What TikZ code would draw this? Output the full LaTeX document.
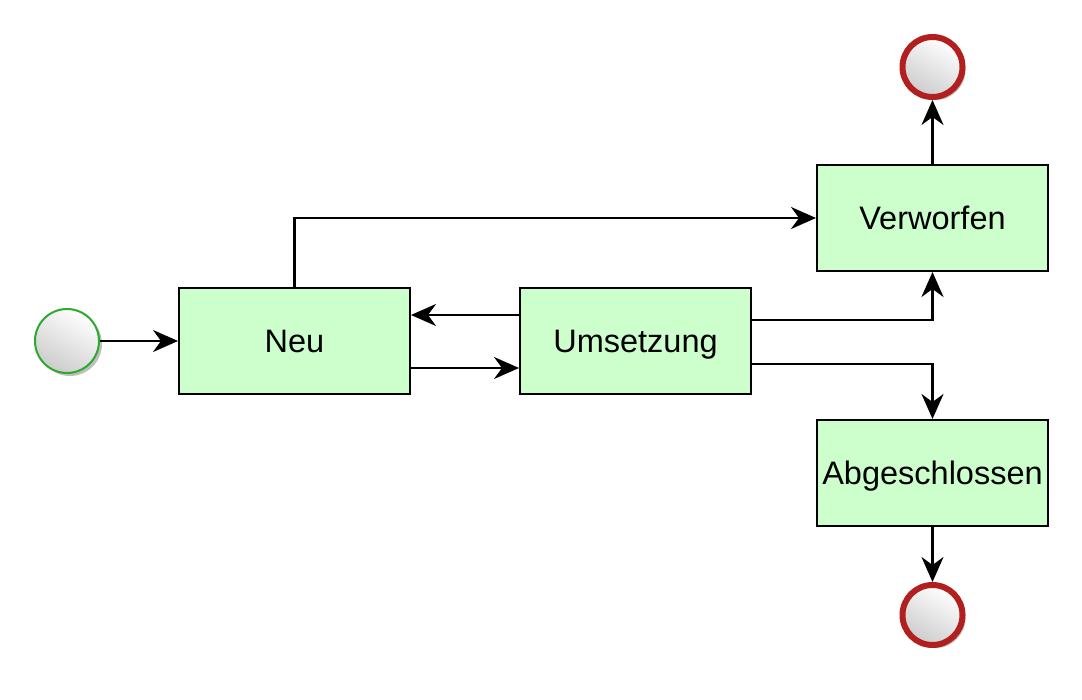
\documentclass[tikz,border=0pt]{standalone}
\usepackage{fontspec}
\setmainfont{Liberation Sans}
\usetikzlibrary{arrows.meta,shadows}
\definecolor{boxfill}{HTML}{CCFFCC}
\definecolor{startgreen}{HTML}{2DAA2D}
\definecolor{endred}{HTML}{B21F1F}
\begin{document}
\begin{tikzpicture}[x=1pt,y=-1pt,
  state/.style={draw=black,line width=2pt,fill=boxfill,minimum width=231pt,minimum height=106pt,inner sep=0pt,font=\fontsize{32.5}{39}\selectfont,text height=23.3pt,text depth=0pt},
  evt/.style={circle,minimum size=#1,inner sep=0pt,top color=white,bottom color=black!20,shading angle=-30,
    drop shadow={shadow xshift=3pt,shadow yshift=-3pt,opacity=0.25,fill=black}},
  conn/.style={line width=2.2pt,-{Stealth[length=25pt,width=22pt,inset=8pt]}}]
\useasboundingbox (0,0) rectangle (1082,700);
\node[evt=64pt,draw=startgreen,line width=2pt] (start) at (67,341) {};
\node[evt=60pt,draw=endred,line width=6pt] (endtop) at (932.5,67) {};
\node[evt=60pt,draw=endred,line width=6pt] (endbot) at (932.5,615) {};
\node[state] (neu) at (294.5,341) {Neu};
\node[state] (ums) at (635.5,341) {Umsetzung};
\node[state] (verw) at (932.5,218) {Verworfen};
\node[state] (abg) at (932.5,473) {Abgeschlossen};
\draw[conn] (start) -- (neu);
\draw[conn] (neu.north) |- (verw.west);
\draw[conn] ([yshift=26pt]ums.west) -- ([yshift=26pt]neu.east);
\draw[conn] ([yshift=-27pt]neu.east) -- ([yshift=-27pt]ums.west);
\draw[conn] ([yshift=21pt]ums.east) -| (verw.south);
\draw[conn] ([yshift=-23pt]ums.east) -| (abg.north);
\draw[conn] (verw.north) -- (endtop);
\draw[conn] (abg.south) -- (endbot);
\end{tikzpicture}
\end{document}
